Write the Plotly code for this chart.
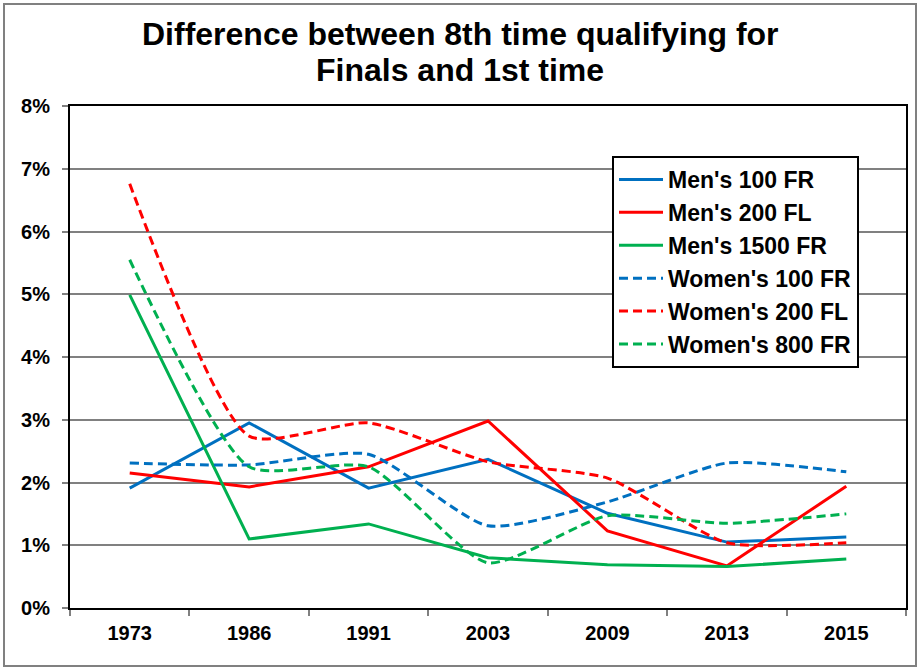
import plotly.graph_objects as go

years = ["1973", "1986", "1991", "2003", "2009", "2013", "2015"]

mens_100_fr = [1.91, 2.95, 1.91, 2.37, 1.51, 1.05, 1.13]
mens_200_fl = [2.15, 1.93, 2.25, 2.98, 1.23, 0.67, 1.94]
mens_1500_fr = [4.99, 1.10, 1.34, 0.80, 0.69, 0.66, 0.78]
womens_100_fr = [2.31, 2.28, 2.45, 1.31, 1.69, 2.31, 2.17]
womens_200_fl = [6.76, 2.74, 2.95, 2.33, 2.07, 1.04, 1.04]
womens_800_fr = [5.55, 2.25, 2.25, 0.72, 1.47, 1.35, 1.50]

title_lines = ["Difference between 8th time qualifying for", "Finals and 1st time"]

series = [
    ("Men's 100 FR", mens_100_fr, "#0070C0", "solid", "linear"),
    ("Men's 200 FL", mens_200_fl, "#FF0000", "solid", "linear"),
    ("Men's 1500 FR", mens_1500_fr, "#00B050", "solid", "linear"),
    ("Women's 100 FR", womens_100_fr, "#0070C0", "9px,5px", "spline"),
    ("Women's 200 FL", womens_200_fl, "#FF0000", "9px,5px", "spline"),
    ("Women's 800 FR", womens_800_fr, "#00B050", "9px,5px", "spline"),
]

fig = go.Figure()
for i, (name, vals, color, dash, shape) in enumerate(series):
    fig.add_trace(go.Scatter(
        x=years, y=vals, name=name, mode="lines",
        line=dict(color=color, width=3, dash=dash, shape=shape, smoothing=0.6),
        legendgroup=f"g{i}",
    ))

font_main = "Liberation Sans, Arial, sans-serif"
PLOT_H = 502

fig.update_layout(
    width=920, height=671,
    paper_bgcolor="white", plot_bgcolor="white",
    margin=dict(l=70, r=14, t=106, b=63),
    showlegend=True,
    legend=dict(
        x=(612 - 70) / 836, y=(608 - 156) / PLOT_H, xanchor="left", yanchor="top",
        bgcolor="white", bordercolor="black", borderwidth=2,
        font=dict(family=font_main, size=23, color="black", weight="bold"),
        tracegroupgap=0,
        itemwidth=44,
    ),
    font=dict(family=font_main, color="black"),
)

for line_text, ypx in zip(title_lines, [34, 70]):
    fig.add_annotation(
        text=f"<b>{line_text}</b>", showarrow=False,
        xref="paper", yref="paper", x=(460 - 70) / 836,
        y=(608 - ypx) / PLOT_H, xanchor="center", yanchor="middle",
        font=dict(family=font_main, size=32, color="black"),
    )

fig.update_xaxes(
    type="category", tickson="boundaries",
    ticks="outside", ticklen=6, tickcolor="#808080", tickwidth=1.5,
    showline=True, linecolor="black", linewidth=2, mirror=True,
    showgrid=False,
    ticklabelstandoff=6,
    tickfont=dict(family=font_main, size=20, color="black", weight="bold"),
    range=[-0.5, 6.5],
)
fig.update_yaxes(
    range=[0, 8], dtick=1, ticksuffix="%",
    ticks="outside", ticklen=6, tickcolor="#808080", tickwidth=1.5,
    showline=True, linecolor="black", linewidth=2, mirror=True,
    showgrid=True, gridcolor="#808080", gridwidth=1.5,
    zeroline=False,
    ticklabelstandoff=8,
    tickfont=dict(family=font_main, size=20, color="black", weight="bold"),
)

fig.add_shape(
    type="rect", xref="paper", yref="paper",
    x0=-66/836, x1=(836+10)/836, y0=-58/502, y1=(502+102)/502,
    line=dict(color="#808080", width=2), fillcolor="rgba(0,0,0,0)",
    layer="above",
)

fig.write_html(
    "out.html",
    config={"displayModeBar": False},
    post_script="document.body.style.margin='0';document.body.style.overflow='hidden';",
)
